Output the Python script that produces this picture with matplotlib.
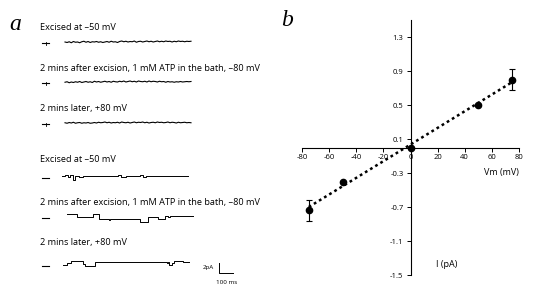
import numpy as np
import matplotlib.pyplot as plt

plt.rcParams['axes.unicode_minus'] = False
plt.rcParams['font.family'] = ['Open Sans', 'DejaVu Sans']

W, H = 548, 291
MS_PER_PX = 100 / 14   # scale bar: 100 ms
PA_PER_PX = 2 / 10     # scale bar: 2 pA

# ---- panel a: single channel recordings ----
trace_labels = [
    'Excised at \u201350 mV',
    '2 mins after excision, 1 mM ATP in the bath, \u201380 mV',
    '2 mins later, +80 mV',
    'Excised at \u201350 mV',
    '2 mins after excision, 1 mM ATP in the bath, \u201380 mV',
    '2 mins later, +80 mV',
]

# noisy traces (pA), one sample every 15 ms
noise_dt = 15
trace1 = [0.0, -0.1, 0.05, -0.15, 0.1, -0.05, 0.0, -0.15, 0.05, 0.15, -0.05, 0.1, -0.1,
          0.05, 0.0, 0.1, -0.05, 0.05, -0.1, 0.0, 0.1, -0.05, 0.15, 0.0, 0.05, -0.1, 0.1,
          0.2, 0.05, 0.15, 0.0, 0.1, 0.05, 0.2, -0.05, 0.1, 0.15, 0.0, 0.1, 0.2, 0.05,
          0.15, 0.0, 0.1, 0.2, 0.05, 0.15, 0.05, 0.2, 0.1, 0.15, 0.0, 0.15, 0.05, 0.2,
          0.1, 0.15, 0.05, 0.15, 0.1, 0.15]
trace2 = [-0.05, 0.05, -0.15, 0.0, -0.1, 0.05, -0.05, 0.1, -0.1, 0.0, 0.1, -0.05, 0.05,
          -0.1, 0.15, 0.0, 0.1, -0.05, 0.05, 0.15, 0.0, 0.1, -0.05, 0.15, 0.05, 0.0, 0.15,
          0.05, 0.2, 0.0, 0.1, 0.2, 0.05, 0.15, 0.0, 0.2, 0.1, 0.05, 0.15, 0.0, 0.2, 0.05,
          0.15, 0.1, 0.0, 0.15, 0.05, 0.1, -0.05, 0.1, 0.0, 0.05, -0.05, 0.05, 0.0, 0.1,
          0.0, 0.05, 0.1, 0.05, 0.1]
trace3 = [0.05, -0.05, 0.1, 0.0, 0.15, -0.05, 0.05, 0.1, -0.05, 0.05, 0.0, 0.1, -0.05,
          0.0, 0.1, 0.0, 0.15, 0.05, 0.1, 0.2, 0.05, 0.15, 0.0, 0.1, 0.05, 0.15, 0.0, 0.2,
          0.1, 0.05, 0.15, 0.0, 0.1, 0.2, 0.05, 0.15, 0.1, 0.2, 0.05, 0.15, 0.0, 0.1, 0.15,
          0.05, 0.2, 0.1, 0.15, 0.05, 0.1, 0.2, 0.05, 0.15, 0.1, 0.0, 0.15, 0.05, 0.1,
          0.15, 0.05, 0.1, 0.05]

# step traces: breakpoints (ms) and current levels (pA)
trace4_t = [0, 20, 40, 60, 75, 95, 120, 150, 380, 400, 420, 460, 480, 560, 580, 600, 900]
trace4_i = [0.2, 0.5, 0.1, 0.4, -0.6, 0.3, 0.1, 0.2, 0.2, 0.4, 0.1, 0.3, 0.2, 0.4, 0.1, 0.2, 0.2]
trace5_t = [0, 70, 185, 230, 300, 310, 520, 580, 650, 700, 720, 735, 900]
trace5_i = [0.6, 0.0, 0.6, -0.4, -0.6, -0.4, -1.0, 0.1, -0.3, 0.3, 0.0, 0.3, 0.3]
trace6_t = [0, 30, 60, 140, 155, 230, 740, 750, 760, 775, 790, 860, 900]
trace6_i = [0.1, 0.5, 0.9, 0.3, -0.2, 0.6, 0.5, 0.7, 0.0, 0.5, 0.9, 0.6, 0.6]

# ---- panel b: I-V relation ----
vm = [-75, -50, 0, 50, 75]
current = [-0.74, -0.41, 0.0, 0.50, 0.80]
current_err = [0.12, 0.0, 0.0, 0.0, 0.12]
fit_vm = [-75, 75]
fit_i = [-0.70, 0.77]
x_ticks = [-80, -60, -40, -20, 0, 20, 40, 60, 80]
y_ticks = [-1.5, -1.1, -0.7, -0.3, 0.1, 0.5, 0.9, 1.3]


def fx(x):
    return x / W


def fy(y):
    return 1 - y / H


fig = plt.figure(figsize=(W / 100, H / 100), dpi=100)

ax_a = fig.add_axes([0, 0, 280 / W, 1])
ax_a.set_xlim(0, 280 * MS_PER_PX)
ax_a.set_ylim(-H * PA_PER_PX, 0)
ax_a.axis('off')

label_y = [28, 69, 109, 160, 203, 243]
trace_y = [42, 82, 123, 177, 217, 265]
trace_x0 = [65, 65, 65, 62, 67, 63]

noisy = [trace1, trace2, trace3]
steps = [(trace4_t, trace4_i), (trace5_t, trace5_i), (trace6_t, trace6_i)]

for k in range(6):
    fig.text(fx(40), fy(label_y[k]), trace_labels[k], fontsize=6.6, va='center', ha='left')
    base = -trace_y[k] * PA_PER_PX
    x0 = trace_x0[k] * MS_PER_PX
    # zero-current marker
    ax_a.plot([42 * MS_PER_PX, 49 * MS_PER_PX], [base - 0.2, base - 0.2], color='k', lw=0.8)
    if k < 3:
        ax_a.plot([46 * MS_PER_PX] * 2, [base - 0.5, base + 0.1], color='k', lw=0.6)
        vals = np.array(noisy[k])
        t = x0 + np.arange(len(vals)) * noise_dt
        ax_a.plot(t, base + vals, color='k', lw=0.8)
    else:
        tt, ii = steps[k - 3]
        ax_a.plot(x0 + np.array(tt), base + np.array(ii), color='k', lw=0.7,
                  drawstyle='steps-post')

# scale bar
sb_x = 219 * MS_PER_PX
sb_y = -273 * PA_PER_PX
ax_a.plot([sb_x, sb_x, sb_x + 100], [sb_y + 2, sb_y, sb_y], color='k', lw=0.7)
fig.text(fx(214), fy(267), '2pA', fontsize=4.5, ha='right', va='center')
fig.text(fx(227), fy(282), '100 ms', fontsize=4.5, ha='center', va='center')

fig.text(fx(9), fy(25), 'a', fontsize=17, style='italic', family='Liberation Serif',
         va='center', ha='left')
fig.text(fx(281), fy(20), 'b', fontsize=17, style='italic', family='Liberation Serif',
         va='center', ha='left')

# panel b axes
ax_b = fig.add_axes([fx(302), fy(275), 217 / W, 255 / H])
ax_b.set_xlim(-80, 80)
ax_b.set_ylim(-1.5, 1.5)
ax_b.spines['left'].set_position(('data', 0))
ax_b.spines['bottom'].set_position(('data', 0))
ax_b.spines['top'].set_visible(False)
ax_b.spines['right'].set_visible(False)
for s in ['left', 'bottom']:
    ax_b.spines[s].set_linewidth(0.8)
ax_b.patch.set_alpha(0)
ax_b.set_xticks(x_ticks)
ax_b.set_xticklabels([str(v) for v in x_ticks])
ax_b.set_yticks(y_ticks)
ax_b.set_yticklabels([f'{v:.1f}' for v in y_ticks])
ax_b.tick_params(direction='out', length=3, width=0.7, labelsize=5.5, pad=2)

ax_b.plot(fit_vm, fit_i, color='k', lw=1.8, linestyle=(0, (1.1, 1.3)))
ax_b.errorbar(vm, current, yerr=current_err, fmt='o', color='k', ms=4.5,
              capsize=2, elinewidth=0.8, capthick=0.8)

ax_b.text(80, -0.3, 'Vm (mV)', fontsize=6.5, ha='right', va='center')
ax_b.text(27, -1.38, 'I (pA)', fontsize=6.5, ha='center', va='center')

fig.savefig('out.png', dpi=100)
